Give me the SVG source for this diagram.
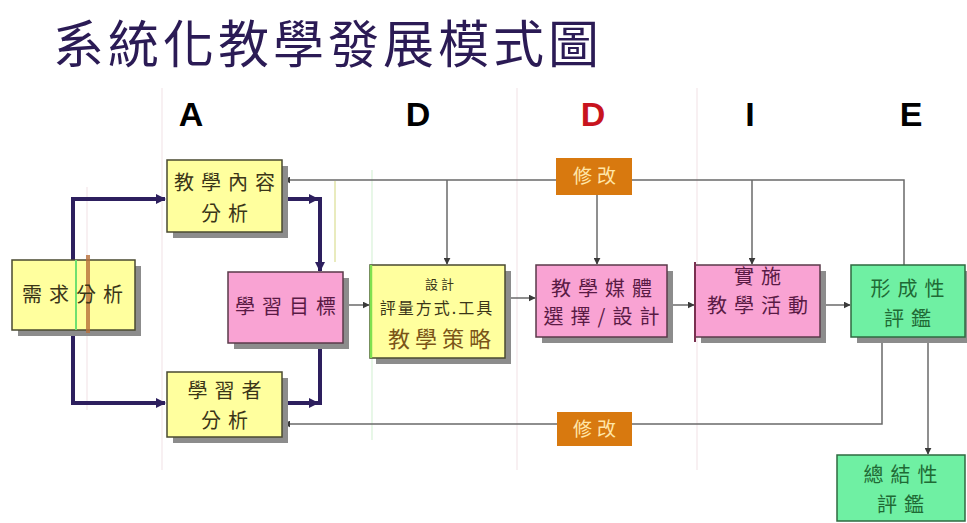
<svg xmlns="http://www.w3.org/2000/svg" width="967" height="523" viewBox="0 0 967 523">
<defs>
<style>
.shadow{fill:#8c8c8c}
.yel{fill:#ffff9e;stroke:#4a4a30;stroke-width:1.5}
.pink{fill:#f9a3d3;stroke:#5a3a4a;stroke-width:1.5}
.grn{fill:#6ff0a3;stroke:#2f6a40;stroke-width:1.5}
.org{fill:#d8790f}
.cjk{font-family:"Noto Sans CJK TC","Noto Sans CJK SC",sans-serif;text-anchor:middle}
.ty{fill:#3a3518;font-size:20px;letter-spacing:7px}
.tp{fill:#5a1a45;font-size:20px;letter-spacing:7px}
.tg{fill:#1f6a35;font-size:20px;letter-spacing:7px}
.to{fill:#ffe6a8;font-size:19px;letter-spacing:5px}
.thick{stroke:#2d1f5e;stroke-width:4;fill:none}
.thin{stroke:#6a6a6a;stroke-width:1.5;fill:none}
.guide{stroke:#f3e6ea;stroke-width:1.2}
.let{font-family:"Liberation Sans",Arial,sans-serif;font-weight:bold;font-size:34px;text-anchor:middle}
</style>
<marker id="ah" viewBox="0 0 10 10" refX="9" refY="5" markerWidth="7" markerHeight="7" orient="auto" markerUnits="userSpaceOnUse"><path d="M0,0L10,5L0,10z" fill="#3a3a3a"/></marker>
<marker id="ahT" viewBox="0 0 10 10" refX="9" refY="5" markerWidth="10" markerHeight="10" orient="auto" markerUnits="userSpaceOnUse"><path d="M0,0L10,5L0,10z" fill="#2d1f5e"/></marker>
</defs>
<rect width="967" height="523" fill="#ffffff"/>
<g id="guides">
<line class="guide" x1="162" y1="88" x2="162" y2="470"/>
<line x1="372" y1="170" x2="372" y2="440" stroke="#d8f2d8" stroke-width="1.2"/>
<line class="guide" x1="517" y1="88" x2="517" y2="470"/>
<line class="guide" x1="697" y1="88" x2="697" y2="470"/>
<line class="guide" x1="87" y1="187" x2="87" y2="410"/>
</g>
<g id="title">
<text x="328" y="63" font-family="Noto Sans CJK TC,Noto Sans CJK SC,sans-serif" font-size="51" fill="#2b1b55" text-anchor="middle" letter-spacing="4">系統化教學發展模式圖</text>
</g>
<g id="phases">
<text class="let" x="191" y="126" fill="#000">A</text>
<text class="let" x="418" y="126" fill="#000">D</text>
<text class="let" x="593" y="126" fill="#c8141e">D</text>
<text class="let" x="750" y="126" fill="#000">I</text>
<text class="let" x="911" y="126" fill="#000">E</text>
</g>
<g id="connectors">
<path class="thin" d="M904,265 V180 H284" marker-end="url(#ah)"/>
<path class="thin" d="M447,180 V264" marker-end="url(#ah)"/>
<path class="thin" d="M597,195 V264" marker-end="url(#ah)"/>
<path class="thin" d="M752,180 V264" marker-end="url(#ah)"/>
<path d="M335,181 V262" stroke="#e2e4a8" stroke-width="1.5"/>
<path class="thin" d="M882,337 V424 H284" marker-end="url(#ah)"/>
<path class="thin" d="M928,337 V454" marker-end="url(#ah)"/>
<path class="thin" d="M343,305 H369" marker-end="url(#ah)"/>
<path class="thin" d="M505,298 H535" marker-end="url(#ah)"/>
<path class="thin" d="M667,305 H694" marker-end="url(#ah)"/>
<path class="thin" d="M820,305 H850" marker-end="url(#ah)"/>
<path class="thick" d="M73,199 V403"/>
<path class="thick" d="M71,199 H165" marker-end="url(#ahT)"/>
<path class="thick" d="M71,403 H165" marker-end="url(#ahT)"/>
<path class="thick" d="M283,199 H318" marker-end="url(#ahT)"/>
<path class="thick" d="M320,197 V271" marker-end="url(#ahT)"/>
<path class="thick" d="M283,403 H318" marker-end="url(#ahT)"/>
<path class="thick" d="M320,405 V344"/>
<circle cx="320" cy="344" r="3.5" fill="#2d1f5e"/>
</g>
<g id="need">
<rect class="shadow" x="18" y="266" width="123" height="70"/>
<rect class="yel" x="12" y="260" width="123" height="70"/>
<line x1="76" y1="260" x2="76" y2="330" stroke="#6fe06f" stroke-width="2"/>
<line x1="88" y1="255" x2="88" y2="333" stroke="#b8703a" stroke-width="4" opacity="0.8"/>
<text class="cjk ty" x="76" y="302">需求分析</text>
</g>
<g id="content">
<rect class="shadow" x="173" y="166" width="115" height="72"/>
<rect class="yel" x="167" y="160" width="115" height="72"/>
<text class="cjk ty" x="228" y="190">教學內容</text>
<text class="cjk ty" x="228" y="221">分析</text>
</g>
<g id="learner">
<rect class="shadow" x="173" y="378" width="115" height="65"/>
<rect class="yel" x="167" y="372" width="115" height="65"/>
<text class="cjk ty" x="228" y="398">學習者</text>
<text class="cjk ty" x="228" y="428">分析</text>
</g>
<g id="objective">
<rect class="shadow" x="234" y="278" width="115" height="71"/>
<rect class="pink" x="228" y="272" width="115" height="71"/>
<text class="cjk tp" x="289" y="314">學習目標</text>
</g>
<g id="strategy">
<rect class="shadow" x="376" y="271" width="135" height="93"/>
<rect class="yel" x="370" y="265" width="135" height="93"/>
<line x1="371" y1="265" x2="371" y2="358" stroke="#7fe04f" stroke-width="2.5"/>
<text class="cjk" x="441" y="289" font-size="13" fill="#3a3518" letter-spacing="3">設計</text>
<text class="cjk" x="437" y="314" font-size="16" fill="#3a3518" letter-spacing="2">評量方式.工具</text>
<text class="cjk" x="442" y="347" font-size="22" fill="#7a5418" letter-spacing="5">教學策略</text>
</g>
<g id="media">
<rect class="shadow" x="542" y="271" width="131" height="72"/>
<rect class="pink" x="536" y="265" width="131" height="72"/>
<text class="cjk tp" x="605" y="296" font-size="19" letter-spacing="4">教學媒體</text>
<text class="cjk tp" x="605" y="324" font-size="19" letter-spacing="4">選擇/設計</text>
</g>
<g id="revise-top">
<rect class="org" x="556" y="158" width="76" height="37"/>
<text class="cjk to" x="597" y="183">修改</text>
</g>
<g id="implement">
<rect class="shadow" x="701" y="271" width="125" height="72"/>
<rect class="pink" x="695" y="265" width="125" height="72"/>
<line x1="695" y1="262" x2="695" y2="342" stroke="#7a3050" stroke-width="2"/>
<text class="cjk tp" x="761" y="284">實施</text>
<text class="cjk tp" x="761" y="313">教學活動</text>
</g>
<g id="formative">
<rect class="shadow" x="857" y="271" width="110" height="72"/>
<rect class="grn" x="851" y="265" width="114" height="72"/>
<text class="cjk tg" x="911" y="296">形成性</text>
<text class="cjk tg" x="911" y="326">評鑑</text>
</g>
<g id="summative">
<rect class="grn" x="837" y="455" width="128" height="66"/>
<text class="cjk tg" x="904" y="482">總結性</text>
<text class="cjk tg" x="904" y="512">評鑑</text>
</g>
<g id="revise-bottom">
<rect class="org" x="557" y="412" width="75" height="34"/>
<text class="cjk to" x="597" y="436">修改</text>
</g>
</svg>
